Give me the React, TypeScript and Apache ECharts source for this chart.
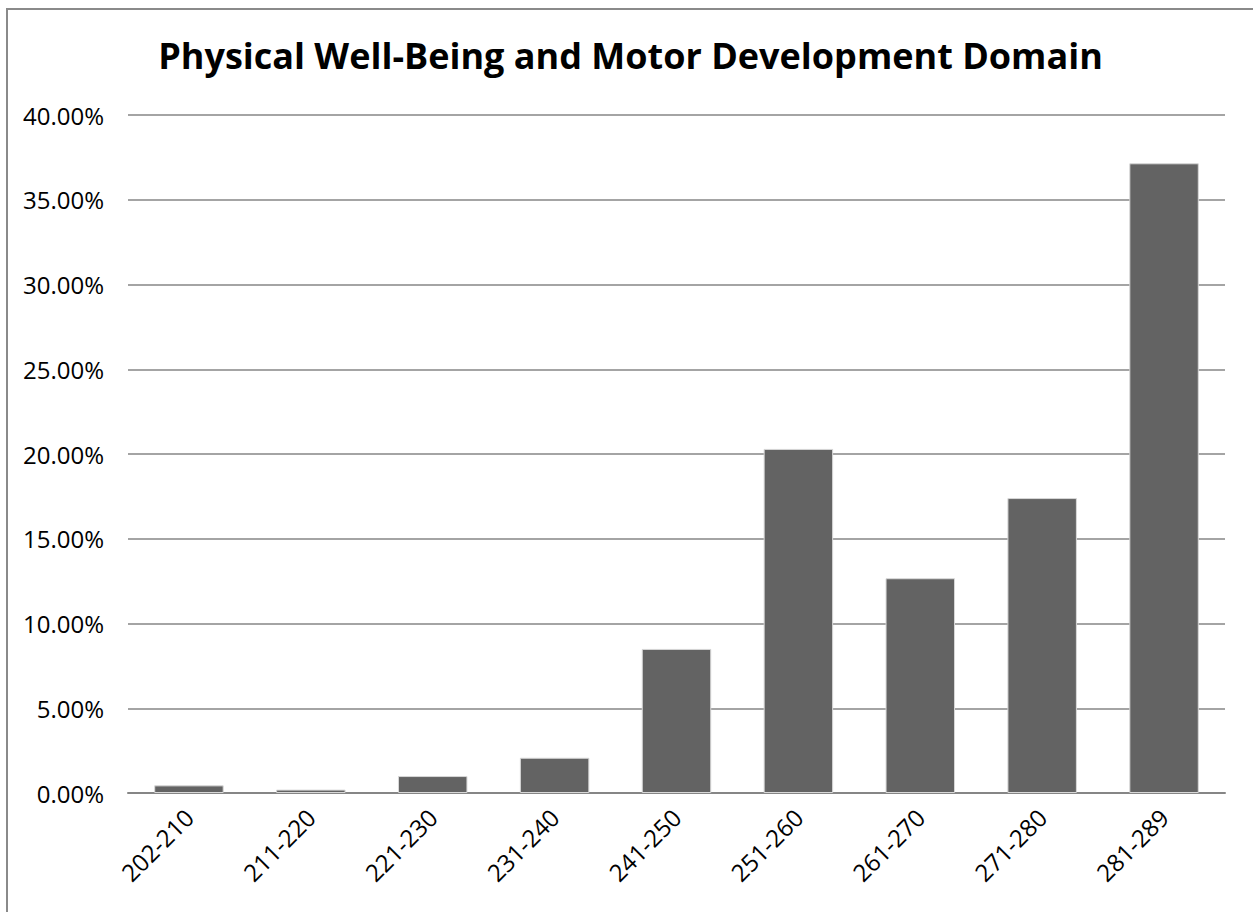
import React, { useEffect, useRef } from "react";
import * as echarts from "echarts";

const TITLE = "Physical Well-Being and Motor Development Domain";
const categories = ["202-210", "211-220", "221-230", "231-240", "241-250", "251-260", "261-270", "271-280", "281-289"];
const percentValues = [0.45, 0.2, 1.0, 2.08, 8.5, 20.3, 12.67, 17.4, 37.15];
const yTicks = { min: 0, max: 40, interval: 5 };

export default function App() {
  const ref = useRef<HTMLDivElement>(null);
  useEffect(() => {
    if (!ref.current) return;
    const chart = echarts.init(ref.current, undefined, { renderer: "svg" });
    chart.setOption({
      animation: false,
      backgroundColor: "#ffffff",
      title: {
        text: TITLE,
        left: "center",
        top: 22,
        textStyle: { fontFamily: "Open Sans", fontWeight: "bold", fontSize: 36, color: "#000" },
      },
      grid: { left: 120, right: 28, top: 105, bottom: 119, containLabel: false },
      xAxis: {
        type: "category",
        data: categories,
        axisLine: { show: true, lineStyle: { color: "#868686", width: 2 } },
        axisTick: { show: false },
        axisLabel: { rotate: 45, margin: 20, fontFamily: "Open Sans", fontSize: 24, color: "#000", interval: 0 },
        splitLine: { show: false },
      },
      yAxis: {
        type: "value",
        min: yTicks.min,
        max: yTicks.max,
        interval: yTicks.interval,
        axisLine: { show: false },
        axisTick: { show: false },
        axisLabel: {
          margin: 24,
          fontFamily: "Open Sans",
          fontSize: 24,
          color: "#000",
          formatter: (v: number) => v.toFixed(2) + "%",
        },
        splitLine: { show: true, lineStyle: { color: "#868686", width: 1.5 } },
      },
      series: [
        {
          type: "bar",
          data: percentValues,
          barWidth: "57%",
          itemStyle: { color: "#636363", borderColor: "#d8d8d8", borderWidth: 1 },
        },
      ],
    });
    return () => chart.dispose();
  }, []);
  return (
    <div
      style={{
        position: "fixed",
        left: 6,
        top: 8,
        width: 1245,
        height: 902,
        borderLeft: "2px solid #8a8a8a",
        borderTop: "2px solid #8a8a8a",
        background: "#fff",
      }}
    >
      <div ref={ref} style={{ width: 1245, height: 902 }} />
    </div>
  );
}
